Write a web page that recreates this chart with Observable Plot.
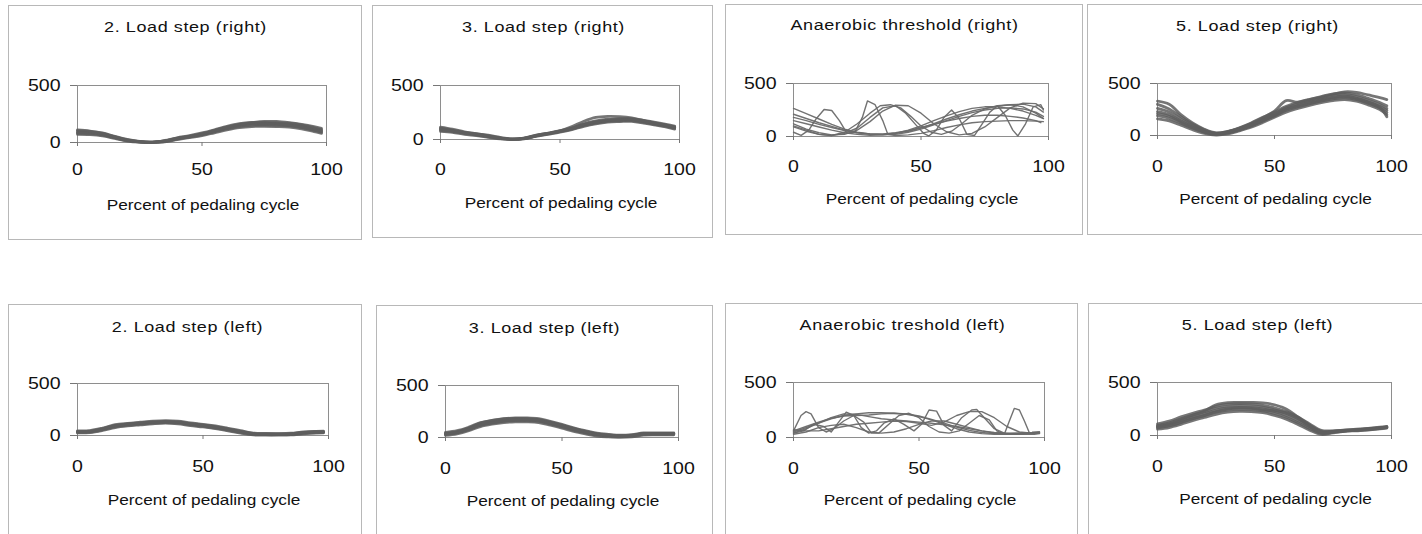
<!DOCTYPE html>
<html><head><meta charset="utf-8">
<script src="https://cdn.jsdelivr.net/npm/d3@7"></script>
<script src="https://cdn.jsdelivr.net/npm/@observablehq/plot@0.6"></script>
<style>
html,body{margin:0;padding:0;background:#fff;overflow:hidden}
#chart{position:relative;width:1422px;height:534px;overflow:hidden;font-family:"Liberation Sans",Arial,sans-serif}
#chart svg{position:absolute;outline:1px solid #b8b8b8;outline-offset:-1px;background:transparent}
</style></head><body><div id="chart"></div>
<script>
// ---- data ----
const titles = ["2. Load step (right)", "3. Load step (right)", "Anaerobic threshold (right)", "5. Load step (right)",
                "2. Load step (left)", "3. Load step (left)", "Anaerobic treshold (left)", "5. Load step (left)"];
const xTicks = [0, 50, 100];
const yTicks = [0, 500];
const xLabel = "Percent of pedaling cycle";
const X = [0,5,10,15,20,25,30,35,40,45,50,55,60,65,70,75,80,85,90,95,98];

const step2Right = [
  [70,68,58,35,12,2,0,5,25,42,60,85,110,130,140,142,140,135,120,95,80],
  [80,76,65,40,16,4,1,8,30,47,66,92,118,140,150,152,150,145,130,105,88],
  [90,85,72,45,20,6,2,12,35,52,72,100,128,150,160,160,158,155,140,115,100],
  [98,92,78,50,24,8,3,15,38,56,78,106,135,158,168,168,166,162,148,122,108],
  [105,98,84,55,28,10,4,18,42,60,84,112,142,165,176,176,174,170,156,130,115],
  [85,88,70,42,18,5,2,10,33,55,70,98,125,155,165,170,165,150,135,110,95],
  [110,100,80,50,22,8,3,14,36,50,75,105,135,160,175,185,185,175,160,140,125]
];
const step3Right = [
  [75,65,48,35,20,5,0,6,28,48,68,92,122,145,160,165,168,152,132,112,95],
  [85,72,55,40,24,8,1,8,32,52,72,96,128,152,168,172,175,158,138,118,102],
  [95,80,60,45,28,10,2,10,35,55,75,100,135,160,175,180,182,165,145,125,110],
  [105,88,66,50,32,12,3,12,38,58,78,104,140,166,182,187,188,172,152,132,118],
  [115,96,72,55,36,14,4,14,40,60,82,108,146,172,188,193,194,178,158,138,125],
  [100,85,65,52,40,20,5,10,33,54,80,120,170,205,215,212,200,175,150,128,112],
  [90,78,62,48,30,12,3,11,36,56,76,102,138,162,176,182,186,170,150,130,115]
];
const atRight = [
  [[0,265],[5,215],[10,165],[15,115],[20,70],[25,40],[30,25],[35,20],[40,30],[45,50],[50,80],[55,120],[60,165],[65,205],[70,240],[75,265],[80,285],[85,300],[90,305],[95,280],[98,230]],
  [[0,180],[5,150],[10,115],[15,85],[20,55],[25,35],[30,25],[35,25],[40,35],[45,55],[50,85],[55,115],[60,145],[65,170],[70,190],[75,200],[80,200],[85,190],[90,175],[95,150],[97,130]],
  [[0,150],[5,120],[10,90],[15,60],[20,35],[25,20],[30,12],[35,15],[40,30],[45,60],[50,100],[55,150],[60,195],[65,235],[70,265],[75,280],[80,280],[85,265],[90,240],[95,200],[98,170]],
  [[0,120],[5,70],[10,35],[15,15],[20,20],[25,60],[30,140],[35,240],[40,295],[45,290],[50,220],[55,120],[60,45],[65,15],[70,30],[75,90],[80,180],[85,270],[90,315],[95,310],[98,260]],
  [[0,90],[5,50],[10,20],[15,10],[20,40],[25,120],[30,220],[34,290],[38,300],[42,270],[46,190],[50,100],[54,40],[58,20],[62,50],[66,120],[70,200],[75,260],[80,290],[85,300],[90,280],[95,220],[98,170]],
  [[0,40],[3,10],[6,60],[9,170],[12,255],[15,245],[18,150],[21,30],[24,40],[27,180],[29,335],[32,300],[35,150],[37,20],[40,10],[45,15],[50,30],[55,55],[60,85],[65,110],[70,130],[75,140],[80,145],[85,150],[90,150],[95,145],[98,140]],
  [[0,100],[5,60],[10,20],[15,10],[20,30],[25,80],[30,180],[35,270],[40,290],[44,220],[48,110],[51,30],[53,5],[56,60],[59,180],[62,250],[65,170],[68,20],[71,10],[74,120],[77,230],[80,290],[83,200],[86,60],[88,5],[91,120],[94,280],[97,300],[98,250]],
  [[0,210],[5,170],[10,130],[15,95],[20,60],[25,35],[30,20],[35,15],[40,20],[45,40],[50,70],[55,110],[60,150],[65,190],[70,225],[75,250],[80,265],[85,270],[90,260],[95,230],[98,190]]
];
const step5Right = [
  [160,140,100,55,20,5,15,45,80,125,175,225,260,290,315,335,345,330,295,250,200],
  [190,165,118,70,30,10,22,52,90,138,188,240,275,305,330,352,362,345,310,265,220],
  [230,200,140,85,40,15,30,60,100,150,200,255,290,320,345,370,380,360,325,280,240],
  [260,225,160,98,48,18,35,68,110,162,212,268,305,335,360,385,395,375,340,298,260],
  [300,255,180,110,55,22,40,75,120,175,225,280,318,348,375,400,410,392,358,318,285],
  [330,300,200,120,60,25,38,70,115,170,235,335,320,345,370,395,420,415,390,365,345],
  [210,185,130,78,35,12,28,58,96,145,195,250,285,312,338,362,372,352,318,270,180]
];
const step2Left = [
  [25,28,48,76,92,102,112,118,112,95,82,65,45,22,5,3,3,5,15,22,24],
  [30,33,54,83,98,108,118,124,118,101,88,71,52,28,10,7,7,9,20,27,28],
  [35,38,60,90,105,115,125,130,125,108,95,78,58,35,15,12,12,14,25,32,33],
  [40,43,66,97,112,122,132,137,132,115,102,85,64,41,20,16,16,18,30,37,38],
  [45,48,72,104,118,128,138,143,139,122,108,92,70,47,24,20,19,22,34,41,42],
  [32,40,64,95,110,120,128,134,128,112,98,82,62,38,17,13,13,16,28,35,36]
];
const step3Left = [
  [20,35,65,105,128,143,150,150,143,118,90,58,34,14,6,2,6,22,25,26,26],
  [28,44,75,116,138,154,161,161,154,129,100,68,43,22,12,7,12,28,30,31,31],
  [35,51,83,125,147,163,170,170,163,138,109,77,51,29,19,13,19,35,35,35,35],
  [42,58,92,134,156,172,180,180,172,147,118,86,59,36,25,18,24,40,40,40,40],
  [50,66,100,143,165,181,189,189,181,156,127,94,66,42,30,22,28,44,44,44,44],
  [38,55,90,140,165,180,185,182,172,148,120,88,60,35,22,15,20,38,38,38,38],
  [30,46,78,118,140,158,168,172,166,140,112,80,54,31,20,14,18,33,34,34,34]
];
const atLeft = [
  [[0,60],[3,200],[5,235],[7,215],[10,90],[13,50],[16,80],[20,150],[24,200],[28,140],[31,40],[34,40],[38,120],[42,200],[46,220],[50,180],[54,100],[58,50],[62,40],[66,60],[70,130],[74,200],[78,160],[81,60],[84,30],[86,150],[88,265],[90,250],[92,150],[94,40],[98,45]],
  [[0,40],[4,60],[8,120],[12,100],[15,50],[18,140],[21,230],[24,200],[27,90],[30,40],[33,60],[36,130],[40,170],[44,120],[48,60],[51,120],[54,250],[57,240],[60,110],[63,60],[67,180],[71,250],[73,255],[76,180],[80,80],[84,40],[88,30],[92,30],[96,30],[98,35]],
  [[0,50],[5,90],[10,130],[15,170],[20,200],[25,215],[30,225],[35,225],[40,220],[45,210],[50,190],[55,160],[60,120],[65,80],[70,50],[75,35],[80,30],[85,30],[90,35],[95,40],[98,45]],
  [[0,60],[5,100],[10,140],[15,175],[20,195],[25,200],[30,205],[35,215],[40,220],[45,215],[50,195],[55,165],[60,130],[65,95],[70,65],[75,45],[80,35],[85,35],[90,40],[95,45],[98,50]],
  [[0,40],[5,80],[10,130],[15,180],[20,215],[25,210],[30,190],[35,170],[40,160],[45,150],[50,140],[55,130],[60,115],[65,100],[70,80],[75,60],[80,45],[85,40],[90,40],[95,45],[98,50]],
  [[0,70],[5,60],[10,60],[15,80],[20,100],[25,120],[30,130],[35,140],[40,150],[45,145],[50,130],[55,110],[60,140],[65,200],[70,235],[75,235],[80,180],[85,100],[90,50],[95,40],[98,40]],
  [[0,30],[5,50],[10,90],[15,110],[20,120],[25,90],[30,50],[35,40],[40,50],[45,80],[50,120],[55,150],[60,150],[65,120],[70,90],[75,60],[80,40],[85,30],[90,30],[95,35],[98,40]]
];
const step5Left = [
  [60,75,105,140,170,200,220,228,226,215,190,155,105,50,10,25,38,45,52,62,70],
  [72,90,122,158,188,220,240,246,244,232,208,172,122,65,20,30,42,48,56,66,74],
  [85,105,140,175,205,240,260,265,262,250,225,190,140,80,30,35,45,52,60,70,78],
  [98,120,158,192,222,258,278,283,280,268,242,208,158,95,40,40,48,56,64,74,82],
  [110,135,175,210,240,275,295,300,298,285,260,225,175,110,48,44,52,60,68,78,86],
  [90,110,150,190,230,290,310,312,312,308,290,250,175,100,35,38,47,54,62,72,80],
  [80,95,125,160,190,225,250,258,256,240,235,215,165,90,25,33,44,50,58,68,76]
];

// ---- layout (pixels) ----
const layout = [
  {box:[8,5,362,240],    plot:[77,85,326,142],   title:[185,27],   pad:16, label:205},
  {box:[372,5,713,238],  plot:[440,85,679,139],  title:[543,27],   pad:19, label:203},
  {box:[725,4,1083,235], plot:[793,83,1048,136], title:[904,25],   pad:19, label:199},
  {box:[1087,4,1424,235],plot:[1157,83,1391,135],title:[1257,26],  pad:20, label:199},
  {box:[8,304,362,540],  plot:[77,383,328,435],  title:[187,327],  pad:20, label:500},
  {box:[376,305,713,540],plot:[445,385,678,437], title:[544,328],  pad:20, label:501},
  {box:[725,303,1078,540],plot:[793,382,1044,437],title:[902,325], pad:20, label:500},
  {box:[1088,303,1424,540],plot:[1157,382,1391,435],title:[1257,325],pad:20, label:499}
];

const gridRows = (series) => series.flatMap((s, i) => s.map((v, j) => ({id: i, x: X[j], y: v})));
const pairRows = (series) => series.flatMap((s, i) => s.map(([x, y]) => ({id: i, x, y})));
const panels = [
  {rows: gridRows(step2Right), sw: 2.7, band: true},
  {rows: gridRows(step3Right), sw: 2.7, band: true},
  {rows: pairRows(atRight), sw: 1.4, band: false},
  {rows: gridRows(step5Right), sw: 2.8, band: true},
  {rows: gridRows(step2Left), sw: 2.7, band: true},
  {rows: gridRows(step3Left), sw: 2.7, band: true},
  {rows: pairRows(atLeft), sw: 1.4, band: false},
  {rows: gridRows(step5Left), sw: 2.8, band: true}
];

const chart = document.getElementById("chart");
panels.forEach((p, i) => {
  const L = layout[i];
  const [bl, bt, br, bb] = L.box;
  const [pl, pt, pr, pb] = L.plot;
  const pcx = (pl + pr) / 2;
  const svg = Plot.plot({
    width: br - bl, height: bb - bt,
    marginLeft: pl - bl, marginTop: pt - bt, marginRight: br - pr, marginBottom: bb - pb,
    style: {fontFamily: '"Liberation Sans", Arial, sans-serif', color: "#111", background: "transparent", overflow: "visible"},
    x: {domain: [0, 100]},
    y: {domain: [0, 500]},
    marks: [
      Plot.frame({stroke: "#8e8e8e", strokeWidth: 1}),
      Plot.line(p.rows, {x: "x", y: "y", z: "id", stroke: p.band ? "#5e5e5e" : "#6a6a6a", strokeWidth: p.sw, strokeOpacity: p.band ? 0.85 : 0.95, curve: p.band ? "catmull-rom" : "linear"}),
      Plot.axisX({ticks: xTicks, tickSize: 4, tickPadding: L.pad, fontSize: 17, label: null, stroke: "#777"}),
      Plot.axisY({ticks: yTicks, tickSize: 7, tickPadding: 10, fontSize: 17, label: null, stroke: "#777"}),
      Plot.text([titles[i]], {text: d => d, frameAnchor: "top", lineAnchor: "middle", dx: L.title[0] - pcx, dy: L.title[1] - pt, fontSize: 15}),
      Plot.text([xLabel], {text: d => d, frameAnchor: "bottom", lineAnchor: "middle", dx: 1, dy: L.label - pb, fontSize: 14.5})
    ]
  });
  // the scanned original is stretched horizontally: widen the glyphs around their anchors
  svg.querySelectorAll("text").forEach(t => {
    const s = t.textContent;
    let sx = 1.15;
    if (s === titles[i]) { sx = 1.2; t.style.letterSpacing = "0.5px"; }
    else if (s === xLabel) { sx = 1.19; }
    const tr = t.getAttribute("transform") || "";
    t.setAttribute("transform", (tr + ` scale(${sx},1)`).trim());
  });
  svg.style.left = bl + "px";
  svg.style.top = bt + "px";
  chart.appendChild(svg);
});
</script></body></html>
